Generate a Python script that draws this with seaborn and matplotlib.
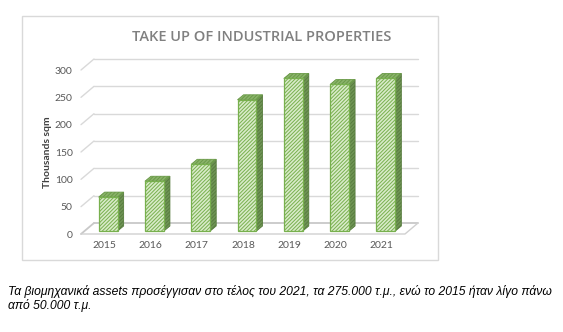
import matplotlib
matplotlib.use("Agg")
import matplotlib.pyplot as plt
from matplotlib.patches import Polygon, Rectangle
from matplotlib.lines import Line2D
from matplotlib.transforms import Affine2D, IdentityTransform
import seaborn as sns
import pandas as pd

years = ["2015", "2016", "2017", "2018", "2019", "2020", "2021"]
take_up = [62, 91, 122, 240, 279, 268, 279]
y_ticks = [0, 50, 100, 150, 200, 250, 300]

title = "TAKE UP OF INDUSTRIAL PROPERTIES"
y_label = "Thousands sqm"
caption = ("Τα βιομηχανικά assets προσέγγισαν στο τέλος του 2021, τα 275.000 τ.μ., "
           "ενώ το 2015 ήταν λίγο πάνω\nαπό 50.000 τ.μ.")

sns.set_theme(style="white")
plt.rcParams["font.family"] = ["Lato", "DejaVu Sans"]
plt.rcParams["hatch.linewidth"] = 0.7

W, H = 563, 332
fig = plt.figure(figsize=(W / 100, H / 100), dpi=100)


def fx(x):
    return x / W


def fy(y):
    return 1 - y / H


# chart frame
fig.patches.append(Rectangle((fx(22), fy(260)), fx(438) - fx(22), fy(16) - fy(260),
                             transform=fig.transFigure, fill=False,
                             edgecolor="#d9d9d9", linewidth=1))

# front plane of the plot: floor front edge and value scale
ax = fig.add_axes([fx(81), fy(234), fx(405) - fx(81), fy(70) - fy(234)])
ax.patch.set_alpha(0)

df = pd.DataFrame({"year": years, "value": take_up})
sns.barplot(data=df, x="year", y="value", ax=ax, width=0.41, saturation=1,
            color="#d9ebc9", edgecolor="#78b04e", linewidth=0.9,
            hatch="/////////", zorder=3)

ax.set_xlim(-0.5, len(years) - 0.5)
ax.set_ylim(0, 300)
ax.set_yticks(y_ticks)
ax.set_yticklabels([str(t) for t in y_ticks])
for s in ax.spines.values():
    s.set_visible(False)
ax.tick_params(axis="both", length=0, colors="#595959", labelsize=7.5)
ax.tick_params(axis="y", pad=6)
ax.tick_params(axis="x", pad=5)
ax.set_xlabel("")
ax.set_ylabel(y_label, fontsize=7.5, fontweight="bold", color="#404040", labelpad=2)

# depth of the floor and of the bars (pixels)
DX, DY = 13, 11
BX, BY = 4, 3
SX, SY = 6, 5

to_disp = ax.transData.transform
x_lo, x_hi = ax.get_xlim()

# back wall gridlines and the slanted connectors on the left
for t in y_ticks:
    (xa, ya) = to_disp((x_lo, t))
    (xb, _) = to_disp((x_hi, t))
    col = "#c8c8c8" if t == 0 else "#d9d9d9"
    lw = 1.3 if t == 0 else 1.0
    ax.add_line(Line2D([xa, xa + DX], [ya, ya + DY], transform=IdentityTransform(),
                       color=col, lw=lw, clip_on=False, zorder=0.5))
    ax.add_line(Line2D([xa + DX, xb + DX], [ya + DY, ya + DY], transform=IdentityTransform(),
                       color=col, lw=lw, clip_on=False, zorder=0.5))

# floor front edge and right side
(fx0, fy0) = to_disp((x_lo, 0))
(fx1, _) = to_disp((x_hi, 0))
ax.add_line(Line2D([fx0, fx1, fx1 + DX], [fy0, fy0, fy0 + DY], transform=IdentityTransform(),
                   color="#d0d0d0", lw=1.0, clip_on=False, zorder=0.6))

# shift bars into the floor and add their side and top faces
shift = Affine2D().translate(BX, BY)
for p in ax.patches:
    p.set_transform(ax.transData + shift)
    x0 = p.get_x()
    x1 = x0 + p.get_width()
    h = p.get_height()
    (X0, Y0) = to_disp((x0, 0))
    (X1, Y1) = to_disp((x1, h))
    X0 += BX; X1 += BX; Y0 += BY; Y1 += BY
    side = Polygon([(X1, Y0), (X1 + SX, Y0 + SY), (X1 + SX, Y1 + SY), (X1, Y1)],
                   closed=True, transform=IdentityTransform(), facecolor="#6f9455",
                   edgecolor="#587d3f", hatch="/////////", linewidth=0.6, clip_on=False, zorder=2.9)
    top = Polygon([(X0, Y1), (X0 + SX, Y1 + SY), (X1 + SX, Y1 + SY), (X1, Y1)],
                  closed=True, transform=IdentityTransform(), facecolor="#8ab36a",
                  edgecolor="#6a9a48", hatch="/////////", linewidth=0.6, clip_on=False, zorder=2.9)
    ax.add_patch(side)
    ax.add_patch(top)

fig.text(fx(262), fy(37), title, ha="center", va="center", fontsize=10.5,
         fontweight="semibold", color="#808080", family=["Open Sans", "DejaVu Sans"])

fig.text(fx(8), fy(285), caption, ha="left", va="top", fontsize=8.7, style="italic",
         color="#000000", family=["Liberation Sans", "DejaVu Sans"], linespacing=1.05)

fig.savefig("out.png", dpi=100)
